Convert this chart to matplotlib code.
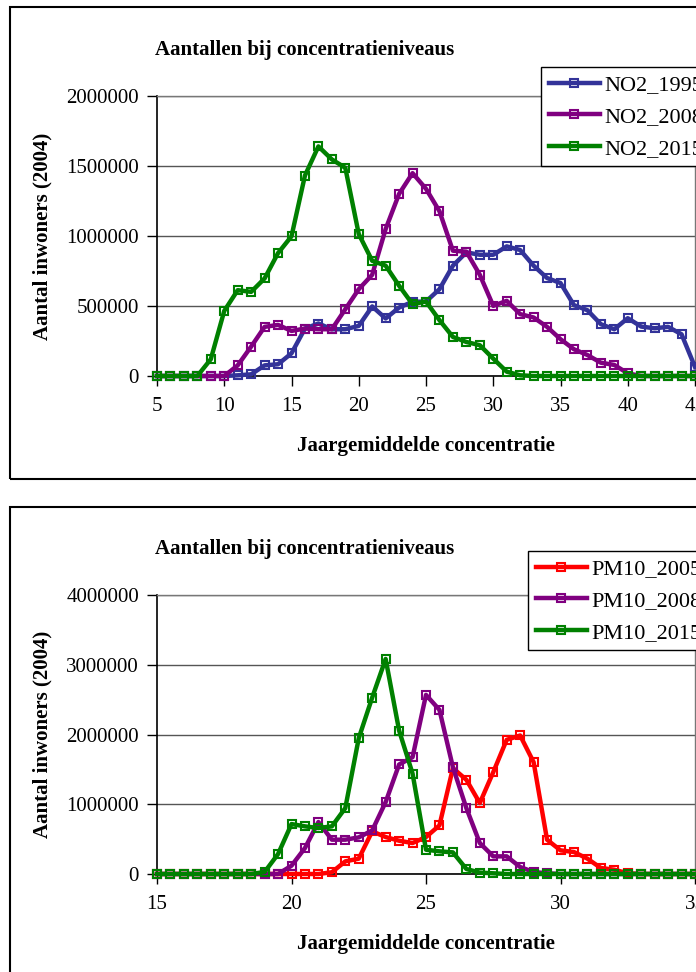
import matplotlib
matplotlib.use("Agg")
import matplotlib.pyplot as plt
from matplotlib.patches import Rectangle
import numpy as np

plt.rcParams['font.family'] = ['Liberation Serif', 'DejaVu Serif']

# ---------------- data ----------------
no2_x = list(range(5, 46))
no2_1995 = [0, 0, 0, 0, 0, 0, 5000, 12000, 76000, 84000, 162000, 339000, 375000, 334000, 334000,
            358000, 497000, 411000, 489000, 530000, 532000, 620000, 788000, 883000, 866000,
            866000, 926000, 900000, 788000, 700000, 664000, 506000, 470000, 370000, 334000,
            413000, 353000, 341000, 351000, 298000, 64000]
no2_2008 = [0, 0, 0, 0, 0, 0, 76000, 210000, 351000, 365000, 322000, 339000, 334000, 334000,
            477000, 620000, 723000, 1050000, 1301000, 1449000, 1337000, 1177000, 895000,
            888000, 723000, 501000, 537000, 442000, 418000, 351000, 263000, 191000, 150000,
            95000, 79000, 19000, 0, 0, 0, 0, 0]
no2_2015 = [0, 0, 0, 0, 120000, 465000, 613000, 601000, 697000, 878000, 998000, 1432000,
            1640000, 1547000, 1487000, 1014000, 823000, 788000, 645000, 513000, 532000,
            399000, 279000, 243000, 220000, 124000, 31000, 5000, 0, 0, 0, 0, 0, 0, 0, 0, 0,
            0, 0, 0, 0]

pm_x = [15 + 0.5 * i for i in range(41)]
pm10_2005 = [0, 0, 0, 0, 0, 0, 0, 0, 0, 0, 0, 0, 0, 25000, 181000, 220000, 611000, 530000,
             477000, 444000, 530000, 697000, 1518000, 1351000, 1017000, 1460000, 1924000,
             1986000, 1604000, 492000, 339000, 315000, 220000, 86000, 62000, 10000, 0, 0, 0,
             0, 0]
pm10_2008 = [0, 0, 0, 0, 0, 0, 0, 0, 0, 0, 119000, 372000, 745000, 492000, 492000, 525000,
             625000, 1031000, 1570000, 1675000, 2568000, 2353000, 1532000, 945000, 444000,
             253000, 253000, 100000, 29000, 10000, 0, 0, 0, 0, 0, 0, 0, 0, 0, 0, 0]
pm10_2015 = [0, 0, 0, 0, 0, 0, 0, 0, 29000, 286000, 716000, 683000, 659000, 683000, 945000,
             1947000, 2530000, 3083000, 2057000, 1440000, 348000, 325000, 310000, 72000,
             20000, 10000, 0, 0, 0, 0, 0, 0, 0, 0, 0, 0, 0, 0, 0, 0, 0]

title_text = "Aantallen bij concentratieniveaus"
ylabel_text = "Aantal inwoners (2004)"
xlabel_text = "Jaargemiddelde concentratie"

BLUE = "#333399"
PURPLE = "#800080"
GREEN = "#008000"
RED = "#FF0000"

W, H = 696, 972
fig = plt.figure(figsize=(W / 100, H / 100), dpi=100)

FS = 15
LFS = 16


def px_axes(left, top, right, bottom):
    return fig.add_axes([left / W, 1 - bottom / H, (right - left) / W, (bottom - top) / H])


def style_axes(ax, xlim, xticks, ylim, yticks):
    ax.set_xlim(*xlim)
    ax.set_ylim(*ylim)
    ax.set_xticks(xticks)
    ax.set_yticks(yticks)
    ax.set_xticklabels([str(t) for t in xticks], fontsize=FS)
    ax.set_yticklabels([str(t) for t in yticks], fontsize=FS)
    ax.grid(axis='y', color='#555555', linewidth=1.0)
    ax.set_axisbelow(True)
    ax.tick_params(direction='out', length=7, width=1, color='black', pad=6)
    ax.tick_params(axis='x', pad=8)
    for s in ['top', 'right']:
        ax.spines[s].set_color('#777777')
        ax.spines[s].set_linewidth(1.0)
    for s in ['left', 'bottom']:
        ax.spines[s].set_color('black')
        ax.spines[s].set_linewidth(1.2)
    ax.set_ylabel(ylabel_text, fontsize=FS, fontweight='bold')
    ax.yaxis.set_label_coords(-0.212, 0.5)
    ax.yaxis.label.set_va('center')
    ax.set_xlabel(xlabel_text, fontsize=FS, fontweight='bold')
    ax.xaxis.set_label_coords(0.5, -0.25)
    ax.xaxis.label.set_va('center')


def plot_series(ax, x, y, color, label):
    ax.plot(x, y, color=color, lw=3.2, marker='s', markersize=6.2,
            markerfacecolor='none', markeredgecolor=color, markeredgewidth=1.5,
            label=label, clip_on=False, zorder=3)


# outer frames
fig.patches.append(Rectangle((10 / W, 1 - 479 / H), 700 / W, (479 - 7) / H,
                             transform=fig.transFigure, fill=False,
                             edgecolor='black', linewidth=1.5))
fig.patches.append(Rectangle((10 / W, 1 - 990 / H), 700 / W, (990 - 507) / H,
                             transform=fig.transFigure, fill=False,
                             edgecolor='black', linewidth=1.5))

# ---------- top panel ----------
ax1 = px_axes(157, 96, 695, 376)
plot_series(ax1, no2_x, no2_1995, BLUE, "NO2_1995")
plot_series(ax1, no2_x, no2_2008, PURPLE, "NO2_2008")
plot_series(ax1, no2_x, no2_2015, GREEN, "NO2_2015")
style_axes(ax1, (5, 45), list(range(5, 46, 5)), (0, 2000000), list(range(0, 2000001, 500000)))
fig.text(305 / W, 1 - 50 / H, title_text, fontsize=FS, fontweight='bold', ha='center', va='center')
leg1 = ax1.legend(loc='upper left', bbox_to_anchor=(541 / W, 1 - 67 / H),
                  bbox_transform=fig.transFigure, fontsize=LFS, frameon=True, fancybox=False,
                  edgecolor='black', framealpha=1, borderaxespad=0, handlelength=2.3,
                  handletextpad=0.2, labelspacing=0.5, borderpad=0.35)
leg1.get_frame().set_linewidth(1.0)

# ---------- bottom panel ----------
ax2 = px_axes(157, 595, 695, 874)
plot_series(ax2, pm_x, pm10_2005, RED, "PM10_2005")
plot_series(ax2, pm_x, pm10_2008, PURPLE, "PM10_2008")
plot_series(ax2, pm_x, pm10_2015, GREEN, "PM10_2015")
style_axes(ax2, (15, 35), list(range(15, 36, 5)), (0, 4000000), list(range(0, 4000001, 1000000)))
fig.text(305 / W, 1 - 549 / H, title_text, fontsize=FS, fontweight='bold', ha='center', va='center')
leg2 = ax2.legend(loc='upper left', bbox_to_anchor=(528 / W, 1 - 551 / H),
                  bbox_transform=fig.transFigure, fontsize=LFS, frameon=True, fancybox=False,
                  edgecolor='black', framealpha=1, borderaxespad=0, handlelength=2.3,
                  handletextpad=0.2, labelspacing=0.5, borderpad=0.35)
leg2.get_frame().set_linewidth(1.0)

fig.savefig("out.png", dpi=100)
